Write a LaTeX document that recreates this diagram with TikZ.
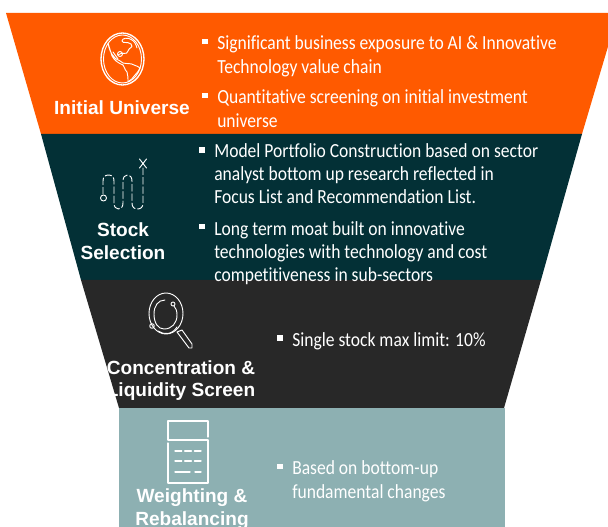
\documentclass[tikz,border=0pt]{standalone}
\usepackage{fontspec}
\setmainfont[FakeStretch=0.877,Ligatures=NoCommon]{Carlito}
\newfontfamily\labelfont{Liberation Sans}
\definecolor{cOrange}{HTML}{FF5A00}
\definecolor{cGreen}{HTML}{033036}
\definecolor{cDark}{HTML}{282828}
\definecolor{cTeal}{HTML}{8DB0B2}
\tikzset{
 band/.style={draw=none},
 head/.style={font=\labelfont\bfseries\fontsize{14.3}{17}\selectfont,text=white,anchor=base,inner sep=0pt},
 body/.style={font=\fontsize{15}{16}\selectfont,text=white,anchor=base west,inner sep=0pt},
 bull/.style={fill=white,draw=none,minimum size=4.2pt,inner sep=0pt},
 icon/.style={draw=white,line width=1pt,line cap=round,line join=round},
 iconfine/.style={draw=white,line width=0.7pt,line cap=round,line join=round}
}
\begin{document}
\begin{tikzpicture}[x=0.75pt,y=-0.75pt]
\useasboundingbox (0,0) rectangle (608,527);
\fill[white] (0,0) rectangle (608,527);
\clip (0,0) rectangle (608,527);
\fill[cOrange,band] (6,13) -- (618,13) -- (582,134) -- (41,134) -- cycle;
\fill[cGreen,band] (41,134) -- (582,134) -- (541,280) -- (81,280) -- cycle;
\fill[cDark,band] (81,280) -- (541,280) -- (504,408) -- (119,408) -- cycle;
\fill[cTeal,band] (119,408) -- (505,408) -- (505,527) -- (119,527) -- cycle;
% headings
\node[head] (h1) at (122,115) {Initial Universe};
\node[head] (h2a) at (123,236.5) {Stock};
\node[head] (h2b) at (123,259.5) {Selection};
\node[head] (h3a) at (181,374.2) {Concentration \&};
\node[head] (h3b) at (181,397) {Liquidity Screen};
\node[head] (h4a) at (192,503) {Weighting \&};
\node[head] (h4b) at (192,525.2) {Rebalancing};
% body 1
\node[bull] (b1) at (205,41.7) {};
\node[body] (t1a) at (217,49.5) {Significant business exposure to AI \& Innovative};
\node[body] (t1b) at (217,73.2) {Technology value chain};
\node[bull] (b2) at (205,95.7) {};
\node[body] (t2a) at (217,103.8) {Quantitative screening on initial investment};
\node[body] (t2b) at (217,127.2) {universe};
% body 2
\node[bull] (b3) at (202,150) {};
\node[body] (t3a) at (214,157.7) {Model Portfolio Construction based on sector};
\node[body] (t3b) at (214,180.8) {analyst bottom up research reflected in};
\node[body] (t3c) at (214,203.8) {Focus List and Recommendation List.};
\node[bull] (b4) at (202,226.7) {};
\node[body] (t4a) at (214,235.8) {Long term moat built on innovative};
\node[body] (t4b) at (214,258.8) {technologies with technology and cost};
\node[body] (t4c) at (214,281.5) {competitiveness in sub-sectors};
% body 3
\node[bull] (b5) at (280,338.3) {};
\node[body] (t5a) at (292,346.5) {Single stock max limit: 10\%};
% body 4
\node[bull] (b6) at (280,466.7) {};
\node[body] (t6a) at (292,475) {Based on bottom-up};
\node[body] (t6b) at (292,498.5) {fundamental changes};
% globe
\draw[icon] (122.5,59) ellipse (21.5 and 26);
\draw[iconfine] (122.5,59) ellipse (19 and 24);
\draw[iconfine] (108,43) .. controls (109,48) and (110,53) .. (115,58) .. controls (118,61) and (121,60) .. (123,63) .. controls (127,64) and (131,63) .. (134,65) .. controls (137,66) and (139,67) .. (140,68) .. controls (138,72) and (136,74) .. (135,75) .. controls (133,78) and (131,80) .. (128,82) .. controls (128,78) and (128,75) .. (127,72) .. controls (124,69) and (125,67) .. (123,65) .. controls (118,63) and (114,60) .. (112,56) -- (108,43) -- cycle;
\draw[iconfine] (113,52) -- (118,59);
\draw[iconfine] (118,55) .. controls (122,51) and (127,56) .. (128,51) .. controls (129,47) and (134,48) .. (131,44) .. controls (127,41) and (123,44) .. (122,41) .. controls (122,38) and (128,37) .. (132,40) .. controls (134,41) and (136,44) .. (137,48);
\draw[iconfine] (120,54) circle (2.5);
% route icon
\draw[iconfine,dash pattern=on 5pt off 2pt] (103,194) -- (103,181) .. controls (103,177) and (105,175) .. (108.5,175) .. controls (112,175) and (114,177) .. (114,181) -- (114,203) .. controls (114,207) and (116,209) .. (118.5,209) .. controls (121,209) and (123,207) .. (123,203) -- (123,181) .. controls (123,177) and (125,175) .. (127.5,175) .. controls (130,175) and (132,177) .. (132,181) -- (132,203) .. controls (132,207) and (134,209) .. (137.5,209) .. controls (141,209) and (143,207) .. (143,203) -- (143,168);
\draw[iconfine] (103.5,198) circle (3);
\draw[iconfine] (139.5,159) -- (146.5,168) (146.5,159) -- (139.5,168);
% magnifier
\draw[iconfine] (166,313.5) ellipse (17 and 20.5);
\draw[iconfine] (165,300) .. controls (158,300) and (154,306) .. (154,314) .. controls (154,323) and (158,329) .. (164,329) .. controls (172,329) and (177,323) .. (177,315) .. controls (177,311) and (176,308) .. (174,306);
\draw[iconfine] (158,331) .. controls (164,335) and (172,335) .. (177,327);
\draw[iconfine] (173,304) circle (2);
\draw[iconfine] (152,326) circle (2.3);
\draw[iconfine] (177,332) -- (182,330) -- (192,344) -- (192,348) -- (189,348) -- cycle;
% calculator
\draw[icon] (208,437) -- (208,421) -- (168,421) -- (168,440) -- (208,440) -- (208,483) -- (168,483) -- (168,443);
\draw[icon,dash pattern=on 5pt off 2.3pt] (175,451) -- (201,451) (175,461) -- (201,461);
\draw[icon] (175,472) -- (190,472) (195,472) -- (201,472);
\end{tikzpicture}
\end{document}
